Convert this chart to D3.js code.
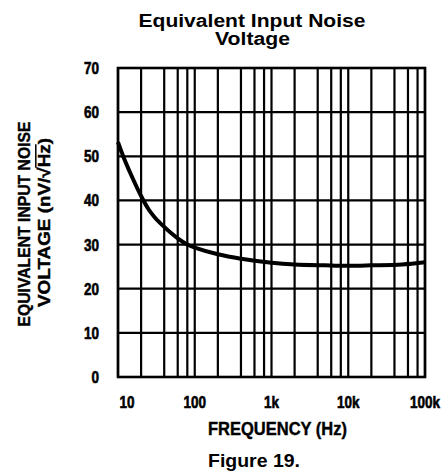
<!DOCTYPE html>
<html>
<head>
<meta charset="utf-8">
<script src="https://cdn.jsdelivr.net/npm/d3@7"></script>
<style>
  html, body { margin: 0; padding: 0; background: #fff; }
  svg { display: block; }
</style>
</head>
<body>
<svg id="chart" width="447" height="475"></svg>
<script>
// ---- data ----
const freqHz = [10, 12, 15, 20, 25, 30, 40, 50, 60, 80, 100, 200, 400, 1000, 2000, 5000, 10000, 20000, 50000, 100000];
const noiseNV = [53.2, 49.5, 45.6, 41.0, 38.0, 36.2, 34.0, 32.5, 31.4, 30.0, 29.3, 27.8, 26.8, 25.9, 25.5, 25.3, 25.2, 25.3, 25.5, 26.0];
const xTickValues = [10, 100, 1000, 10000, 100000];
const xTickLabels = ["10", "100", "1k", "10k", "100k"];
const yTickValues = [0, 10, 20, 30, 40, 50, 60, 70];
const xGridMultipliers = [1, 2, 4, 6, 8];

// ---- layout ----
const L = 118, R = 425, T = 68, B = 377;
const svg = d3.select("#chart");
const x = d3.scaleLog().domain([10, 100000]).range([L, R]);
const y = d3.scaleLinear().domain([0, 70]).range([B, T]);

const sans = "'Liberation Sans', Arial, Helvetica, sans-serif";
const squeeze = 0.82;

// vertical grid lines
const xGrid = [];
for (let d = 10; d < 100000; d *= 10) {
  xGridMultipliers.forEach(m => xGrid.push(d * m));
}
xGrid.push(100000);

svg.append("g").selectAll("line").data(xGrid).join("line")
  .attr("x1", d => x(d)).attr("x2", d => x(d))
  .attr("y1", T).attr("y2", B)
  .attr("stroke", "#000").attr("stroke-width", 2.2);

svg.append("g").selectAll("line").data(yTickValues).join("line")
  .attr("x1", L).attr("x2", R)
  .attr("y1", d => y(d)).attr("y2", d => y(d))
  .attr("stroke", "#000").attr("stroke-width", 2.2);

// frame
svg.append("rect").attr("x", L).attr("y", T).attr("width", R - L).attr("height", B - T)
  .attr("fill", "none").attr("stroke", "#000").attr("stroke-width", 2.6);

// curve
const line = d3.line().x((d, i) => x(freqHz[i])).y(d => y(d)).curve(d3.curveCatmullRom.alpha(0.5));
svg.append("path").datum(noiseNV).attr("d", line)
  .attr("fill", "none").attr("stroke", "#000").attr("stroke-width", 4);

// y tick labels (condensed heavy)
svg.append("g").selectAll("text").data(yTickValues).join("text")
  .attr("transform", d => `translate(99,${y(d)}) scale(${squeeze},1)`)
  .attr("dy", "0.36em")
  .attr("text-anchor", "end")
  .attr("font-family", sans).attr("font-weight", "bold").attr("font-size", 16.5)
  .attr("stroke", "#000").attr("stroke-width", 0.6)
  .text(d => d);

// x tick labels
svg.append("g").selectAll("text").data(xTickValues).join("text")
  .attr("transform", (d, i) => `translate(${x(d) + (i === 0 ? 9 : 0)},407.5) scale(${squeeze},1)`)
  .attr("text-anchor", "middle")
  .attr("font-family", sans).attr("font-weight", "bold").attr("font-size", 16.5)
  .attr("stroke", "#000").attr("stroke-width", 0.6)
  .text((d, i) => xTickLabels[i]);

// title
svg.append("text").attr("x", 252).attr("y", 26.7).attr("text-anchor", "middle")
  .attr("font-family", sans).attr("font-weight", "bold").attr("font-size", 18)
  .attr("textLength", 227).attr("lengthAdjust", "spacingAndGlyphs")
  .text("Equivalent Input Noise");
svg.append("text").attr("x", 252.5).attr("y", 45).attr("text-anchor", "middle")
  .attr("font-family", sans).attr("font-weight", "bold").attr("font-size", 18)
  .attr("textLength", 75).attr("lengthAdjust", "spacingAndGlyphs")
  .text("Voltage");

// x axis title
svg.append("text").attr("x", 277.5).attr("y", 435).attr("text-anchor", "middle")
  .attr("font-family", sans).attr("font-weight", "bold").attr("font-size", 17.5)
  .attr("textLength", 139).attr("lengthAdjust", "spacingAndGlyphs")
  .attr("stroke", "#000").attr("stroke-width", 0.4)
  .text("FREQUENCY (Hz)");

// figure caption
svg.append("text").attr("x", 254).attr("y", 467).attr("text-anchor", "middle")
  .attr("font-family", sans).attr("font-weight", "bold").attr("font-size", 19)
  .attr("textLength", 92).attr("lengthAdjust", "spacingAndGlyphs")
  .text("Figure 19.");

// y axis title (two rotated lines)
const yt = svg.append("g");
yt.append("text").attr("transform", "translate(30,224) rotate(-90)")
  .attr("text-anchor", "middle")
  .attr("font-family", sans).attr("font-weight", "bold").attr("font-size", 17)
  .attr("textLength", 205).attr("lengthAdjust", "spacingAndGlyphs")
  .attr("stroke", "#000").attr("stroke-width", 0.4)
  .text("EQUIVALENT INPUT NOISE");
const str2 = "VOLTAGE (nV/\u221AHz)";
const t2 = yt.append("text").attr("transform", "translate(50,222.5) rotate(-90)")
  .attr("text-anchor", "middle")
  .attr("font-family", sans).attr("font-weight", "bold").attr("font-size", 17)
  .attr("textLength", 169).attr("lengthAdjust", "spacingAndGlyphs")
  .attr("stroke", "#000").attr("stroke-width", 0.4)
  .text(str2);
// overline for the radical over "Hz"
try {
  const node = t2.node();
  const iH = str2.indexOf("Hz");
  const s = node.getStartPositionOfChar(iH);
  const e = node.getEndPositionOfChar(iH + 1);
  const ext = node.getExtentOfChar(iH - 1);
  const topY = ext.y + 0.8;
  yt.append("line").attr("transform", "translate(50,222.5) rotate(-90)")
    .attr("x1", s.x - 0.5).attr("x2", e.x)
    .attr("y1", topY).attr("y2", topY)
    .attr("stroke", "#000").attr("stroke-width", 1.5);
} catch (err) {}
</script>
</body>
</html>
